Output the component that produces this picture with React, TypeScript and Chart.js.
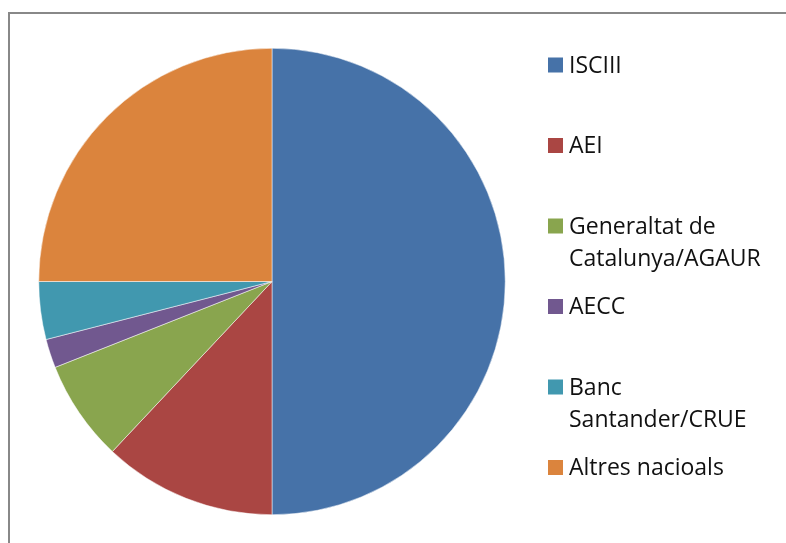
import React, { useEffect, useRef } from "react";
import { Chart, registerables } from "chart.js";

Chart.register(...registerables);

const categories = [
  "ISCIII",
  "AEI",
  "Generaltat de Catalunya/AGAUR",
  "AECC",
  "Banc Santander/CRUE",
  "Altres nacioals",
];
const values = [50, 12, 7, 2, 4, 25];
const colors = ["#4672A8", "#AA4643", "#89A54E", "#71588F", "#4198AF", "#DB843D"];

const FONT = '23px "Open Sans"';

function wrap(ctx: CanvasRenderingContext2D, text: string, maxW: number): string[] {
  const words = text.split(" ");
  const lines: string[] = [];
  let cur = "";
  for (const w of words) {
    const t = cur ? cur + " " + w : w;
    if (cur && ctx.measureText(t).width > maxW) {
      lines.push(cur);
      cur = w;
    } else cur = t;
  }
  if (cur) lines.push(cur);
  return lines;
}

const framePlugin = {
  id: "frame",
  beforeDraw(chart: any) {
    const ctx = chart.ctx as CanvasRenderingContext2D;
    ctx.save();
    ctx.fillStyle = "#ffffff";
    ctx.fillRect(0, 0, chart.width, chart.height);
    ctx.fillStyle = "#888888";
    ctx.fillRect(8, 12, chart.width - 8, 2);
    ctx.fillRect(8, 12, 2, chart.height - 12);
    ctx.restore();
  },
  afterDraw(chart: any) {
    const ctx = chart.ctx as CanvasRenderingContext2D;
    ctx.save();
    ctx.font = FONT;
    ctx.textBaseline = "alphabetic";
    ctx.textAlign = "left";
    const labels = chart.data.labels as string[];
    const bg = chart.data.datasets[0].backgroundColor as string[];
    labels.forEach((lab, i) => {
      const boxTop = 57.5 + i * 80.5;
      ctx.fillStyle = bg[i];
      ctx.fillRect(548, boxTop, 15, 15);
      ctx.fillStyle = "#111111";
      const lines = wrap(ctx, lab, 205);
      lines.forEach((ln, j) => {
        ctx.fillText(ln, 569, boxTop + 15 + j * 32.7);
      });
    });
    ctx.restore();
  },
};

export default function App() {
  const ref = useRef<HTMLCanvasElement | null>(null);
  useEffect(() => {
    document.body.style.margin = "0";
    const chart = new Chart(ref.current!, {
      type: "pie",
      data: {
        labels: categories,
        datasets: [
          {
            data: values,
            backgroundColor: colors,
            borderColor: "#ffffff",
            borderWidth: 0.5,
          },
        ],
      },
      options: {
        animation: false,
        responsive: false,
        layout: { padding: { left: 38, right: 280, top: 48, bottom: 28 } },
        plugins: { legend: { display: false }, tooltip: { enabled: false } },
      },
      plugins: [framePlugin],
    });
    return () => chart.destroy();
  }, []);
  return (
    <div style={{ position: "fixed", left: 0, top: 0, width: 786, height: 543 }}>
      <canvas ref={ref} width={786} height={543} />
    </div>
  );
}
